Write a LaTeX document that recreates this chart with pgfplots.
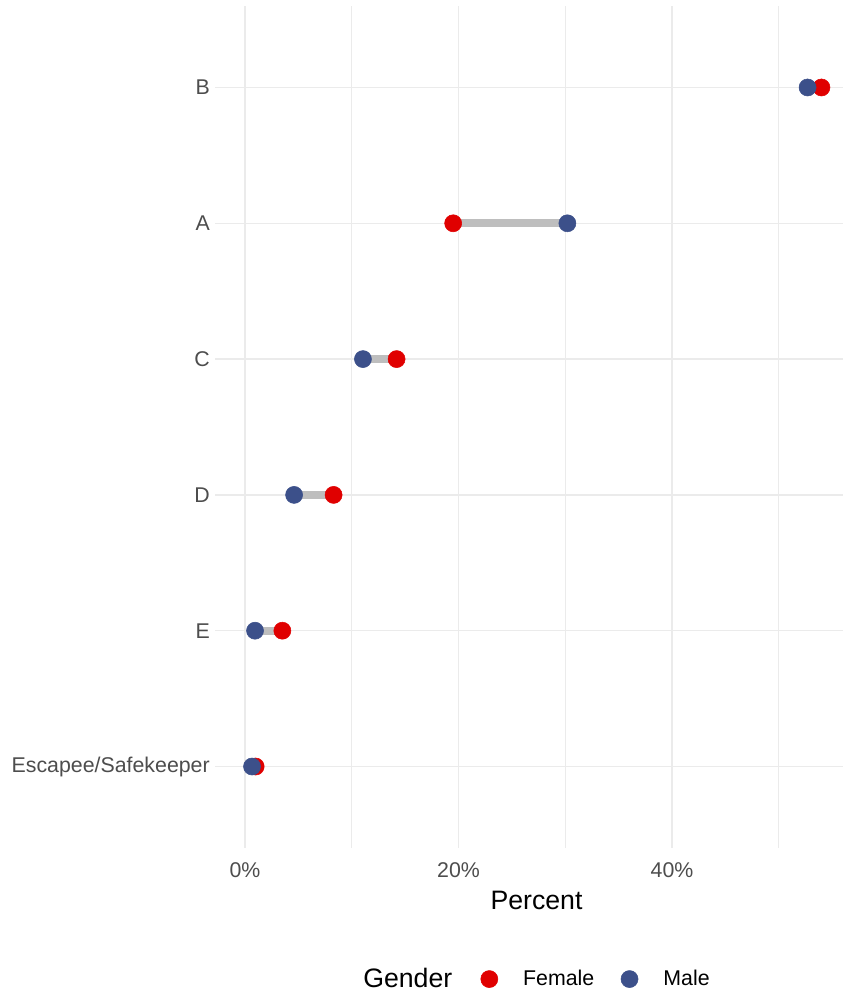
\documentclass[border=0pt]{standalone}
\usepackage{pgfplots}
\pgfplotsset{compat=1.18}
\usepackage{fontspec}
\setmainfont{Liberation Sans}
\definecolor{fem}{RGB}{224,0,0}
\definecolor{mal}{RGB}{60,80,138}
\definecolor{gridc}{RGB}{235,235,235}
\definecolor{segc}{RGB}{190,190,190}
\definecolor{tickc}{RGB}{77,77,77}
\begin{document}
\begin{tikzpicture}
\begin{axis}[
  at={(161.25pt,109.5pt)}, anchor=south west,
  width=471pt, height=631.5pt, scale only axis,
  xmin=-2.81, xmax=56.02, ymin=0.4, ymax=6.6,
  axis line style={draw=none},
  xtick={0,20,40}, xticklabels={0\%,20\%,40\%},
  minor xtick={10,30,50},
  ytick={1,2,3,4,5,6},
  yticklabels={Escapee/Safekeeper,E,D,C,A,B},
  major tick length=0pt, minor tick length=0pt,
  xmajorgrids, xminorgrids, ymajorgrids,
  major grid style={gridc, line width=1.1pt},
  minor grid style={gridc, line width=0.8pt},
  tick label style={font=\fontsize{16}{18}\selectfont, text=tickc},
  /pgf/number format/assume math mode=true,
  xticklabel style={inner sep=0pt, anchor=north, yshift=-10.5pt},
  yticklabel style={inner sep=0pt, anchor=east, xshift=-3.75pt},
  xlabel={Percent},
  xlabel style={font=\fontsize{20}{22}\selectfont, at={(axis description cs:0.512,0)}, anchor=base, yshift=-46pt},
  unbounded coords=jump,
  clip=false,
  legend columns=-1,
  legend style={at={(axis description cs:0.4228,0)}, anchor=west, yshift=-98.3pt,
    draw=none, fill=none, inner sep=0pt,
    nodes={inner sep=0pt},
    font=\fontsize{16}{18}\selectfont,
    /tikz/every odd column/.append style={column sep=19pt},
    /tikz/every even column/.append style={column sep=20pt}},
  legend image code/.code={\draw[#1] plot coordinates {(0cm,0cm)};},
]
\addplot[segc, line width=6pt, forget plot] coordinates {
  (54.0,6) (52.7,6)
  (nan,nan)
  (19.5,5) (30.2,5)
  (nan,nan)
  (14.2,4) (11.05,4)
  (nan,nan)
  (8.3,3) (4.6,3)
  (nan,nan)
  (3.5,2) (0.94,2)
  (nan,nan)
  (1.0,1) (0.66,1)
};
\addplot[only marks, mark=*, mark size=6.4pt, fem, mark options={draw=fem, fill=fem}] coordinates {
  (54.0,6) (19.5,5) (14.2,4) (8.3,3) (3.5,2) (1.0,1)
};
\addlegendentry{Female}
\addplot[only marks, mark=*, mark size=6.4pt, mal, mark options={draw=mal, fill=mal}] coordinates {
  (52.7,6) (30.2,5) (11.05,4) (4.6,3) (0.94,2) (0.66,1)
};
\addlegendentry{Male}
\end{axis}
\node[anchor=base west, inner sep=0pt, font=\fontsize{20}{22}\selectfont] at (272.25pt,5.2pt) {Gender};
\pgfresetboundingbox
\useasboundingbox (0,0) rectangle (632.25pt,745.5pt);
\end{tikzpicture}
\end{document}
